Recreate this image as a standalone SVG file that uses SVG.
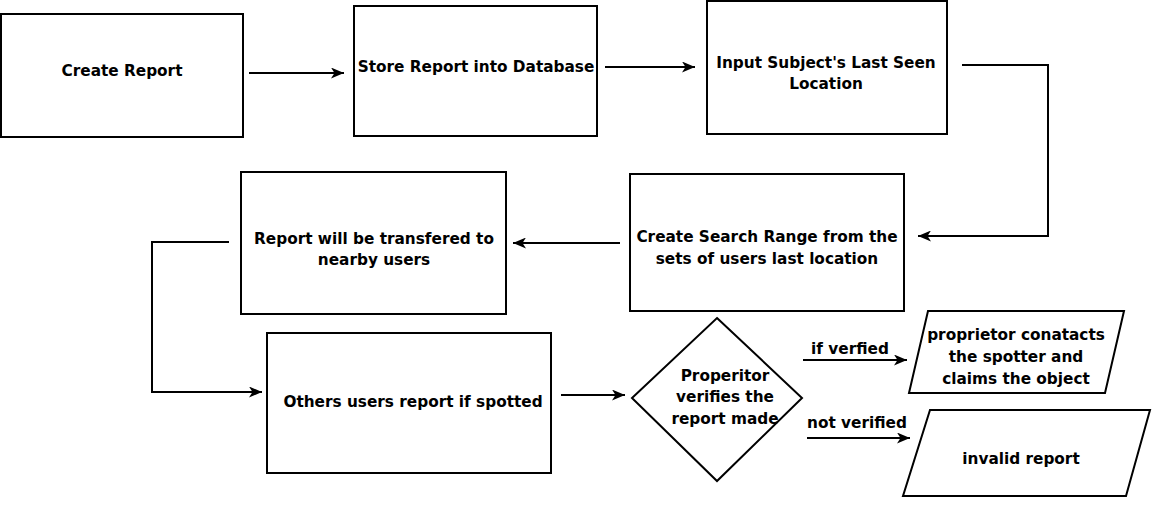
<svg xmlns="http://www.w3.org/2000/svg" width="1152" height="506" viewBox="0 0 1152 506">
<style>
.n{fill:#fff;stroke:#000;stroke-width:2}
.t{font-family:"DejaVu Sans",Verdana,sans-serif;font-weight:bold;font-size:15.3px;fill:#000;text-anchor:middle}
.c{fill:none;stroke:#000;stroke-width:2}
</style>
<defs>
<marker id="a" viewBox="0 0 13 11" refX="13" refY="5.5" markerWidth="13" markerHeight="11" markerUnits="userSpaceOnUse" orient="auto">
<path d="M0,0 L13,5.5 L0,11 L3.5,5.5 Z" fill="#000"/>
</marker>
</defs>
<rect width="1152" height="506" fill="#fff"/>
<g id="connectors">
<path class="c" d="M249,73 H344" marker-end="url(#a)"/>
<path class="c" d="M605,67 H695" marker-end="url(#a)"/>
<path class="c" d="M962,65 H1048 V236 H918" marker-end="url(#a)"/>
<path class="c" d="M620,243 H513" marker-end="url(#a)"/>
<path class="c" d="M229,242 H152 V392 H262" marker-end="url(#a)"/>
<path class="c" d="M561,395 H625" marker-end="url(#a)"/>
<path class="c" d="M803,360 H907" marker-end="url(#a)"/>
<path class="c" d="M807,438 H910" marker-end="url(#a)"/>
<text class="t" x="850" y="354">if verfied</text>
<text class="t" x="857" y="428">not verified</text>
</g>
<g id="create-report">
<rect class="n" x="1" y="14" width="242" height="123"/>
<text class="t" x="122" y="76">Create Report</text>
</g>
<g id="store-report">
<rect class="n" x="354" y="6" width="243" height="130"/>
<text class="t" x="476" y="72">Store Report into Database</text>
</g>
<g id="input-location">
<rect class="n" x="707" y="1" width="240" height="133"/>
<text class="t" x="826" y="68">Input Subject's Last Seen</text>
<text class="t" x="826" y="89">Location</text>
</g>
<g id="search-range">
<rect class="n" x="630" y="174" width="274" height="137"/>
<text class="t" x="767" y="242">Create Search Range from the</text>
<text class="t" x="767" y="264">sets of users last location</text>
</g>
<g id="transfer">
<rect class="n" x="241" y="172" width="265" height="142"/>
<text class="t" x="374" y="244">Report will be transfered to</text>
<text class="t" x="374" y="265">nearby users</text>
</g>
<g id="others-report">
<rect class="n" x="267" y="333" width="284" height="140"/>
<text class="t" x="413" y="407">Others users report if spotted</text>
</g>
<g id="verify">
<path class="n" d="M717,318 L802,398 L717,481 L632,398 Z"/>
<text class="t" x="725" y="381">Properitor</text>
<text class="t" x="725" y="402">verifies the</text>
<text class="t" x="725" y="424">report made</text>
</g>
<g id="claims">
<path class="n" d="M928,311 H1124 L1105,393 H909 Z"/>
<text class="t" x="1016" y="340">proprietor conatacts</text>
<text class="t" x="1016" y="362">the spotter and</text>
<text class="t" x="1016" y="384">claims the object</text>
</g>
<g id="invalid">
<path class="n" d="M930,410 H1150 L1126,496 H903 Z"/>
<text class="t" x="1021" y="464">invalid report</text>
</g>
</svg>
